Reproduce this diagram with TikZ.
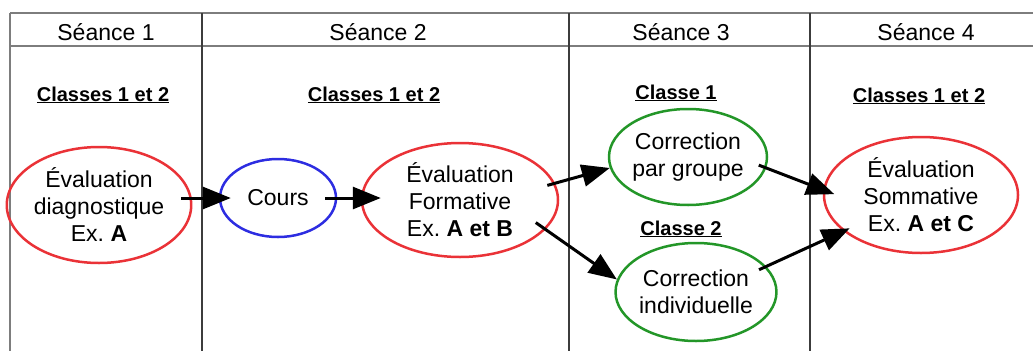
\documentclass[tikz,border=0pt]{standalone}
\usepackage{fontspec}
\setmainfont{Liberation Sans}
\usepackage{tikz}
\usetikzlibrary{shapes.geometric, arrows.meta, positioning}
\definecolor{evalred}{RGB}{234,50,55}
\definecolor{coursblue}{RGB}{45,45,225}
\definecolor{corrgreen}{RGB}{35,150,40}
\definecolor{gridgray}{RGB}{125,125,125}
\definecolor{griddark}{RGB}{60,60,60}
\frenchspacing
\tikzset{
    seance/.style={anchor=base, font=\fontsize{23}{27}\selectfont},
    classe/.style={anchor=base, font=\fontsize{20}{24}\selectfont\bfseries},
    bulle/.style={ellipse, inner sep=0pt, line width=2.5pt, text centered, align=center, font=\fontsize{23}{27}\selectfont},
    evaluation/.style={bulle, draw=evalred},
    lecon/.style={bulle, draw=coursblue},
    correction/.style={bulle, draw=corrgreen},
    arrow/.style={-{Triangle[length=28pt,width=22pt]}, line width=3pt, black}
}

\begin{document}
\begin{tikzpicture}[x=1pt, y=-1pt]
    \useasboundingbox (0,0) rectangle (1033,351);

    % Table
    \draw[gridgray, line width=1.8pt] (10,13) -- (1033,13);
    \draw[gridgray, line width=1.5pt] (10,46) -- (1033,46);
    \draw[gridgray, line width=2pt] (10,13) -- (10,351);
    \foreach \x in {202,569,810}
        \draw[griddark, line width=1.2pt] (\x,13) -- (\x,351);

    % Séances
    \node[seance] (s1) at (106,40) {Séance 1};
    \node[seance] (s2) at (378,40) {Séance 2};
    \node[seance] (s3) at (681,40) {Séance 3};
    \node[seance] (s4) at (926,40) {Séance 4};

    % Classes
    \node[classe] (c1) at (103,101) {\underline{Classes 1 et 2}};
    \node[classe] (c2) at (374,101) {\underline{Classes 1 et 2}};
    \node[classe] (c3a) at (676,99) {\underline{Classe 1}};
    \node[classe] (c3b) at (681,235) {\underline{Classe 2}};
    \node[classe] (c4) at (919,102) {\underline{Classes 1 et 2}};

    % Etapes
    \node[evaluation, minimum width=178pt, minimum height=116pt] (diag) at (99,205)
        {Évaluation\\diagnostique\\Ex. \textbf{A}};
    \node[lecon, minimum width=116pt, minimum height=78pt] (cours) at (278,198) {Cours};
    \node[evaluation, minimum width=196pt, minimum height=114pt] (form) at (460,200)
        {Évaluation\\Formative\\Ex. \textbf{A et B}};
    \node[correction, minimum width=158pt, minimum height=96pt] (groupe) at (688,157)
        {Correction\\par groupe};
    \node[correction, minimum width=156pt, minimum height=98pt] (indiv) at (696,292)
        {Correction\\individuelle};
    \node[evaluation, minimum width=194pt, minimum height=116pt] (somm) at (921,195)
        {Évaluation\\Sommative\\Ex. \textbf{A et C}};

    % Connections
    \draw[arrow, shorten <=-11pt, shorten >=-12pt] (diag.east |- cours.west) -- (cours.west);
    \draw[arrow, shorten <=-12pt, shorten >=-20pt] (cours.east) -- (form.west |- cours.east);
    \draw[arrow, shorten <=-8pt] (form.10) -- (groupe.188);
    \draw[arrow, shorten <=-12pt] (form.-19) -- (indiv.171);
    \draw[arrow, shorten <=-8pt, shorten >=-12pt] (groupe.-8) -- (somm.177);
    \draw[arrow, shorten <=-8pt, shorten >=-7pt] (indiv.20) -- (somm.205);
\end{tikzpicture}
\end{document}
